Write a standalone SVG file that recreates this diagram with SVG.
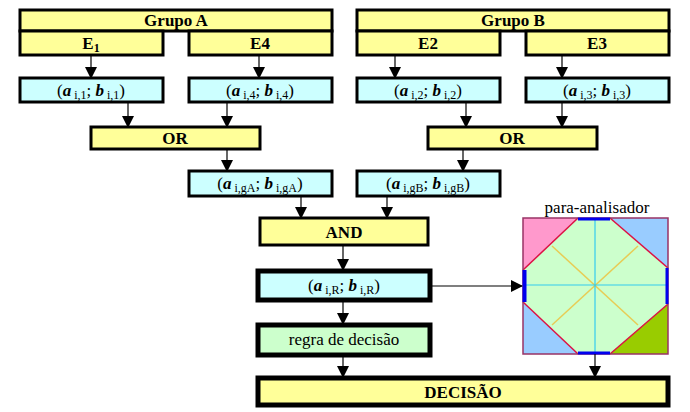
<svg xmlns="http://www.w3.org/2000/svg" width="690" height="412" viewBox="0 0 690 412">
<style>
.y{fill:#ffff99;stroke:#000;stroke-width:3}
.c{fill:#ccffff;stroke:#000;stroke-width:3}
.t5{stroke-width:5}
.g{fill:#ccffcc;stroke:#000;stroke-width:5}
text{font-family:"Liberation Serif","Tinos","DejaVu Serif","Times New Roman",serif;font-size:17px;text-anchor:middle;fill:#000}
.tb{font-weight:bold}
.v{font-weight:bold;font-style:italic}
.s{font-size:12px}
.cn line{stroke:#000;stroke-width:1.2;marker-end:url(#ah)}
</style>
<defs>
<marker id="ah" markerUnits="userSpaceOnUse" markerWidth="12" markerHeight="12" refX="11" refY="6" orient="auto">
<path d="M0,0 L12,6 L0,12 Z" fill="#000"/>
</marker>
</defs>
<rect width="690" height="412" fill="#fff"/>

<g id="grupoA"><rect class="y" x="20" y="10" width="312" height="21"/><text class="tb" x="176" y="26">Grupo A</text></g>
<g id="E1"><rect class="y" x="20" y="31" width="143" height="24"/><text class="tb" x="91" y="49">E<tspan class="s" dy="3">1</tspan></text></g>
<g id="E4"><rect class="y" x="189" y="31" width="143" height="24"/><text class="tb" x="260" y="49">E4</text></g>
<g id="grupoB"><rect class="y" x="357" y="10" width="312" height="21"/><text class="tb" x="513" y="26">Grupo B</text></g>
<g id="E2"><rect class="y" x="357" y="31" width="143" height="24"/><text class="tb" x="428" y="49">E2</text></g>
<g id="E3"><rect class="y" x="526" y="31" width="143" height="24"/><text class="tb" x="597" y="49">E3</text></g>

<g id="ab1"><rect class="c" x="20" y="78" width="143" height="24"/><text x="91" y="96">(<tspan class="v">a</tspan><tspan class="s" dx="3" dy="3">i,1</tspan><tspan dy="-3">; </tspan><tspan class="v">b</tspan><tspan class="s" dx="3" dy="3">i,1</tspan><tspan dy="-3">)</tspan></text></g>
<g id="ab4"><rect class="c" x="189" y="78" width="143" height="24"/><text x="260" y="96">(<tspan class="v">a</tspan><tspan class="s" dx="3" dy="3">i,4</tspan><tspan dy="-3">; </tspan><tspan class="v">b</tspan><tspan class="s" dx="3" dy="3">i,4</tspan><tspan dy="-3">)</tspan></text></g>
<g id="ab2"><rect class="c" x="357" y="78" width="143" height="24"/><text x="428" y="96">(<tspan class="v">a</tspan><tspan class="s" dx="3" dy="3">i,2</tspan><tspan dy="-3">; </tspan><tspan class="v">b</tspan><tspan class="s" dx="3" dy="3">i,2</tspan><tspan dy="-3">)</tspan></text></g>
<g id="ab3"><rect class="c" x="526" y="78" width="143" height="24"/><text x="597" y="96">(<tspan class="v">a</tspan><tspan class="s" dx="3" dy="3">i,3</tspan><tspan dy="-3">; </tspan><tspan class="v">b</tspan><tspan class="s" dx="3" dy="3">i,3</tspan><tspan dy="-3">)</tspan></text></g>

<g id="orA"><rect class="y" x="91" y="127" width="169" height="22"/><text class="tb" x="175" y="144">OR</text></g>
<g id="orB"><rect class="y" x="428" y="127" width="169" height="22"/><text class="tb" x="512" y="144">OR</text></g>

<g id="abgA"><rect class="c" x="189" y="171" width="143" height="25"/><text x="260" y="189">(<tspan class="v">a</tspan><tspan class="s" dx="3" dy="3">i,gA</tspan><tspan dy="-3">; </tspan><tspan class="v">b</tspan><tspan class="s" dx="3" dy="3">i,gA</tspan><tspan dy="-3">)</tspan></text></g>
<g id="abgB"><rect class="c" x="357" y="171" width="143" height="25"/><text x="428" y="189">(<tspan class="v">a</tspan><tspan class="s" dx="3" dy="3">i,gB</tspan><tspan dy="-3">; </tspan><tspan class="v">b</tspan><tspan class="s" dx="3" dy="3">i,gB</tspan><tspan dy="-3">)</tspan></text></g>

<g id="and"><rect class="y" x="260" y="218" width="168" height="27"/><text class="tb" x="344" y="238">AND</text></g>
<g id="abR"><rect class="c t5" x="258" y="271" width="172" height="29"/><text x="344" y="291">(<tspan class="v">a</tspan><tspan class="s" dx="3" dy="3">i,R</tspan><tspan dy="-3">; </tspan><tspan class="v">b</tspan><tspan class="s" dx="3" dy="3">i,R</tspan><tspan dy="-3">)</tspan></text></g>
<g id="regra"><rect class="g" x="258" y="325" width="172" height="30"/><text x="344" y="345">regra de decisão</text></g>
<g id="decisao"><rect class="y t5" x="258" y="378" width="410" height="27"/><text class="tb" x="463" y="398">DECISÃO</text></g>

<g id="paraanalisador">
<text x="597" y="213">para-analisador</text>
<rect x="523" y="218" width="145" height="136" fill="#ccffcc"/>
<polygon points="523,218 578,218 523,270" fill="#ff99cc"/>
<polygon points="610,218 668,218 668,268" fill="#99ccff"/>
<polygon points="523,302 523,354 578,354" fill="#99ccff"/>
<polygon points="668,304 668,354 610,354" fill="#99cc00"/>
<line x1="552" y1="246" x2="638" y2="325" stroke="#e8cc55" stroke-width="1.5"/>
<line x1="638" y1="246" x2="552" y2="325" stroke="#e8cc55" stroke-width="1.5"/>
<line x1="595" y1="218" x2="595" y2="354" stroke="#33ccee" stroke-width="1.2"/>
<line x1="523" y1="285" x2="668" y2="285" stroke="#33ccee" stroke-width="1.2"/>
<g stroke="#dd1144" stroke-width="1.5" fill="none">
<line x1="578" y1="218" x2="523" y2="270"/>
<line x1="610" y1="218" x2="668" y2="268"/>
<line x1="523" y1="302" x2="578" y2="354"/>
<line x1="668" y1="304" x2="610" y2="354"/>
</g>
<rect x="523" y="218" width="145" height="136" fill="none" stroke="#993366" stroke-width="1.5"/>
<g stroke="#0000ee">
<line x1="578" y1="219" x2="610" y2="219" stroke-width="3"/>
<line x1="578" y1="353" x2="610" y2="353" stroke-width="3"/>
<line x1="524.5" y1="270" x2="524.5" y2="302" stroke-width="4"/>
<line x1="667" y1="268" x2="667" y2="304" stroke-width="3"/>
</g>
</g>

<g id="connectors" class="cn">
<line x1="91" y1="55" x2="91" y2="78"/>
<line x1="259" y1="55" x2="259" y2="78"/>
<line x1="395" y1="55" x2="395" y2="78"/>
<line x1="562" y1="55" x2="562" y2="78"/>
<line x1="128" y1="102" x2="128" y2="127"/>
<line x1="227" y1="102" x2="227" y2="127"/>
<line x1="466" y1="102" x2="466" y2="127"/>
<line x1="562" y1="102" x2="562" y2="127"/>
<line x1="227" y1="149" x2="227" y2="171"/>
<line x1="463" y1="149" x2="463" y2="171"/>
<line x1="301" y1="196" x2="301" y2="218"/>
<line x1="387" y1="196" x2="387" y2="218"/>
<line x1="343" y1="245" x2="343" y2="270"/>
<line x1="343" y1="300" x2="343" y2="324"/>
<line x1="343" y1="355" x2="343" y2="377"/>
<line x1="595" y1="354" x2="595" y2="377"/>
<line x1="430" y1="286" x2="522" y2="286"/>
</g>
</svg>
